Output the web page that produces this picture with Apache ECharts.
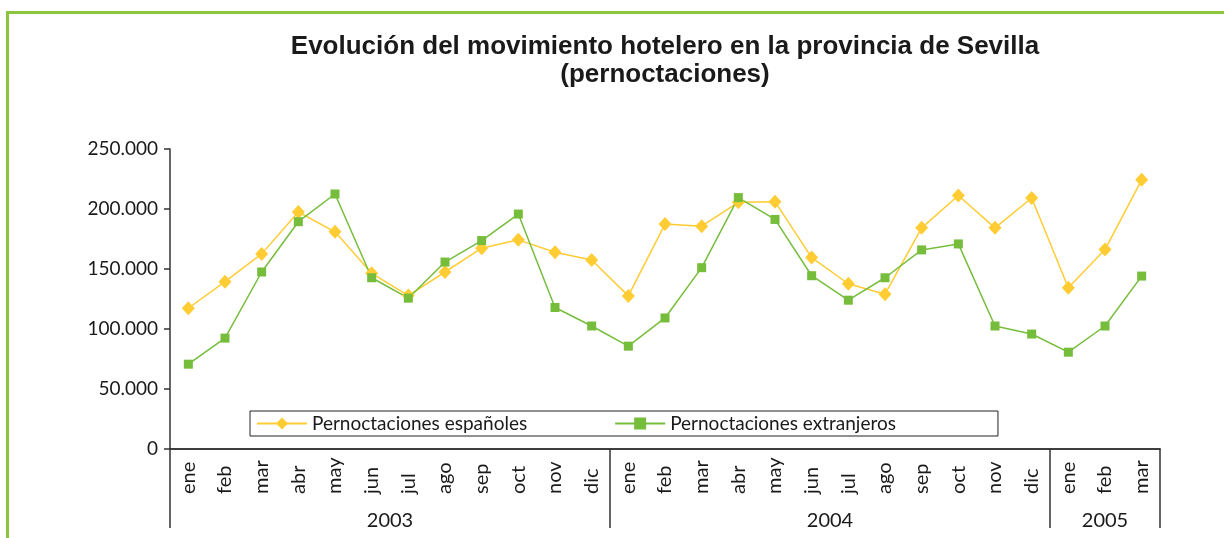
<!DOCTYPE html>
<html>
<head>
<meta charset="utf-8">
<script src="https://cdn.jsdelivr.net/npm/echarts@6/dist/echarts.min.js"></script>
<style>
  body { margin: 0; background: #fff; }
  #frame { position: absolute; left: 6px; top: 11px; width: 1240px; height: 560px;
           border-left: 3px solid #8cc63f; border-top: 3px solid #8cc63f; }
  #chart { position: absolute; left: 0; top: 0; width: 1224px; height: 538px; }
</style>
</head>
<body>
<div id="frame"></div>
<div id="chart"></div>
<script>
// datos: pernoctaciones mensuales ene 2003 - mar 2005
var months = ['ene','feb','mar','abr','may','jun','jul','ago','sep','oct','nov','dic',
              'ene','feb','mar','abr','may','jun','jul','ago','sep','oct','nov','dic',
              'ene','feb','mar'];
var years = ['2003', '2004', '2005'];
var monthsPerYear = [12, 12, 3];
var espanoles = [117300, 139400, 162600, 197500, 181000, 146400, 127900, 147500, 167300, 174300, 164000, 157500,
                 127600, 187400, 185700, 205600, 206100, 159500, 137700, 129000, 184300, 211200, 184300, 209200,
                 134300, 166200, 224300];
var extranjeros = [70700, 92400, 147500, 189400, 212500, 142700, 125700, 155800, 173700, 195800, 117900, 102500,
                   85700, 109200, 151100, 209500, 191300, 144400, 124000, 142700, 165900, 170900, 102500, 95800,
                   80700, 102500, 144100];
var yTicks = { min: 0, max: 250000, step: 50000 };

// eje de años: posiciones en medios meses
var halfSlots = [];
for (var i = 0; i <= months.length * 2; i++) halfSlots.push(String(i));
var yearBounds = [0], yearCenters = {};
var acc = 0;
monthsPerYear.forEach(function (n, k) {
  yearCenters[(acc * 2 + n)] = years[k];
  acc += n;
  yearBounds.push(acc * 2);
});

var font = 'Lato';
var myChart = echarts.init(document.getElementById('chart'));
var option = {
  animation: false,
  title: {
    text: 'Evolución del movimiento hotelero en la provincia de Sevilla\n(pernoctaciones)',
    left: 660,
    top: 28,
    textAlign: 'center',
    textStyle: { fontFamily: 'Liberation Sans', fontWeight: 'bold', fontSize: 26, lineHeight: 28, color: '#1a1a1a' }
  },
  legend: {
    left: 250,
    top: 411,
    orient: 'horizontal',
    padding: [3, 102, 3, 6],
    itemGap: 87,
    itemWidth: 50,
    itemHeight: 15,
    borderColor: '#222',
    borderWidth: 1,
    backgroundColor: '#fff',
    textStyle: { fontFamily: font, fontSize: 19, color: '#1a1a1a' },
    data: ['Pernoctaciones españoles', 'Pernoctaciones extranjeros']
  },
  grid: { left: 170, right: 64, top: 149, bottom: 89 },
  xAxis: [{
    type: 'category',
    data: months,
    boundaryGap: true,
    axisLine: { lineStyle: { color: '#333', width: 1.5 } },
    axisTick: { interval: 0, length: 45, lineStyle: { color: '#333', width: 1.5 } },
    axisLabel: { interval: 0, rotate: 90, align: 'left', margin: 45,
                 fontFamily: font, fontSize: 20, color: '#1a1a1a' }
  }, {
    type: 'category',
    position: 'bottom',
    data: halfSlots,
    boundaryGap: false,
    axisLine: { lineStyle: { color: '#333', width: 1.5 } },
    axisTick: { length: 79, lineStyle: { color: '#333', width: 1.5 },
                interval: function (idx) { return yearBounds.indexOf(idx) >= 0; } },
    axisLabel: { margin: 62, fontFamily: font, fontSize: 20, color: '#1a1a1a',
                 interval: function (idx) { return yearCenters[idx] !== undefined; },
                 formatter: function (v, idx) { return yearCenters[idx] || ''; } }
  }],
  yAxis: {
    type: 'value',
    min: yTicks.min,
    max: yTicks.max,
    interval: yTicks.step,
    splitLine: { show: false },
    axisLine: { show: true, lineStyle: { color: '#333', width: 1.5 } },
    axisTick: { show: true, length: 6, lineStyle: { color: '#333', width: 1.5 } },
    axisLabel: {
      margin: 12, fontFamily: font, fontSize: 19, color: '#1a1a1a',
      formatter: function (v) { return String(v).replace(/\B(?=(\d{3})+(?!\d))/g, '.'); }
    }
  },
  series: [{
    name: 'Pernoctaciones españoles',
    type: 'line',
    data: espanoles,
    symbol: 'diamond',
    symbolSize: [13, 14],
    itemStyle: { color: '#ffcc33' },
    lineStyle: { color: '#ffcc33', width: 1.5 }
  }, {
    name: 'Pernoctaciones extranjeros',
    type: 'line',
    data: extranjeros,
    symbol: 'rect',
    symbolSize: 9,
    itemStyle: { color: '#76bd3c' },
    lineStyle: { color: '#76bd3c', width: 1.5 }
  }]
};
myChart.setOption(option);
</script>
</body>
</html>
